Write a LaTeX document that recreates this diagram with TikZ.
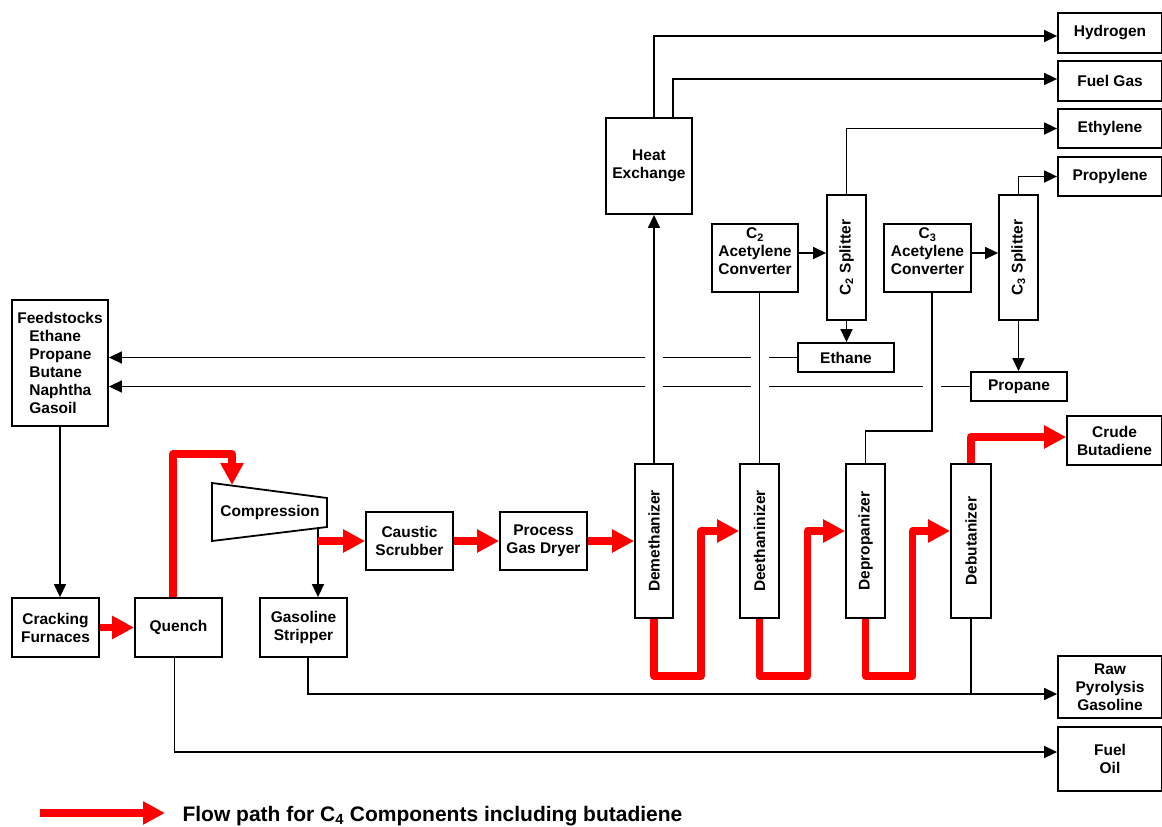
\documentclass[tikz,border=0pt]{standalone}
\usepackage{fontspec}
\setmainfont{Liberation Sans}
\usetikzlibrary{arrows.meta}

\begin{document}
\begin{tikzpicture}[x=1pt,y=-1pt,
    font=\fontsize{15.5}{18}\selectfont\bfseries,
    unitbox/.style={draw, line width=1.8pt, align=center, inner sep=2pt},
    flow/.style={line width=1.5pt, -{Triangle[length=13pt,width=12pt]}},
    pipe/.style={line width=1.5pt},
    bridge/.style={preaction={draw=white, line width=18pt, -}},
    c4/.style={draw=red, line width=7.5pt, line join=round, -{Triangle[length=22pt,width=22pt]}}]
      \useasboundingbox (0,0) rectangle (1162,827);
      % products
      \node[unitbox, minimum width=104, minimum height=40] (hyd) at (1110,33) {Hydrogen};
      \node[unitbox, minimum width=104, minimum height=40] (fgas) at (1110,81) {Fuel Gas};
      \node[unitbox, minimum width=104, minimum height=39] (ethyl) at (1110,128.5) {Ethylene};
      \node[unitbox, minimum width=104, minimum height=39] (propyl) at (1110,176.5) {Propylene};
      \node[unitbox, minimum width=95, minimum height=49] (crude) at (1114.5,440.5) {Crude\\Butadiene};
      \node[unitbox, minimum width=104, minimum height=62] (pygas) at (1110,687) {Raw\\Pyrolysis\\Gasoline};
      \node[unitbox, minimum width=104, minimum height=64] (fuoil) at (1110,759) {Fuel\\Oil};
      % cold end
      \node[unitbox, minimum width=86, minimum height=96] (heat) at (649,166) {Heat\\Exchange};
      \node[unitbox, minimum width=86, minimum height=68] (c2conv) at (755,258) {C\textsubscript{2}\\Acetylene\\Converter\\[-4pt]};
      \node[unitbox, minimum width=39, minimum height=125] (c2split) at (846.5,257.5) {};
      \node[rotate=90] (c2splittxt) at (c2split) {C\textsubscript{2} Splitter};
      \node[unitbox, minimum width=96, minimum height=29] (ethane) at (846,357.5) {Ethane};
      \node[unitbox, minimum width=87, minimum height=68] (c3conv) at (927.5,258) {C\textsubscript{3}\\Acetylene\\Converter\\[-4pt]};
      \node[unitbox, minimum width=39, minimum height=125] (c3split) at (1018.5,257.5) {};
      \node[rotate=90] (c3splittxt) at (c3split) {C\textsubscript{3} Splitter};
      \node[unitbox, minimum width=96, minimum height=29] (propane) at (1019,386.5) {Propane};
      % hot end
      \node[unitbox, minimum width=96, minimum height=126, align=left] (feed) at (60,363)
        {Feedstocks\\\hspace*{12pt}Ethane\\\hspace*{12pt}Propane\\\hspace*{12pt}Butane\\\hspace*{12pt}Naphtha\\\hspace*{12pt}Gasoil};
      \node[unitbox, minimum width=87, minimum height=59] (crack) at (55.5,627.5) {Cracking\\Furnaces};
      \node[unitbox, minimum width=87, minimum height=59] (quench) at (178.5,627.5) {Quench};
      \node[unitbox, minimum width=87, minimum height=59] (strip) at (303.5,627.5) {Gasoline\\Stripper};
      \draw[line width=1.8pt] (212,483) -- (327,498) -- (327,527) -- (212,541) -- cycle;
      \node (compr) at (270,512) {Compression};
      \coordinate (cmpin) at (232,485);
      \coordinate (cmpout) at (318,527);
      \coordinate (cmpred) at (318,541);
      \node[unitbox, minimum width=87, minimum height=58] (scrub) at (409.5,541) {Caustic\\Scrubber};
      \node[unitbox, minimum width=87, minimum height=58] (dryer) at (543.5,541) {Process\\Gas Dryer};
      % columns
      \node[unitbox, minimum width=38, minimum height=154] (demeth) at (654,541) {};
      \node[rotate=90] (demethtxt) at (demeth) {Demethanizer};
      \node[unitbox, minimum width=39, minimum height=154] (deeth) at (759.5,541) {};
      \node[rotate=90] (deethtxt) at (deeth) {Deethaninizer};
      \node[unitbox, minimum width=39, minimum height=154] (deprop) at (865.5,541) {};
      \node[rotate=90] (deproptxt) at (deprop) {Depropanizer};
      \node[unitbox, minimum width=40, minimum height=154] (debut) at (971,541) {};
      \node[rotate=90] (debuttxt) at (debut) {Debutanizer};
      % to the products
      \draw[flow] ([xshift=5pt]heat.north) |- ([yshift=-3pt]hyd.west);
      \draw[flow] ([xshift=24pt]heat.north) |- ([yshift=2pt]fgas.west);
      \draw[flow] (c2split.north) |- (ethyl.west);
      \draw[flow] (c3split.north) |- (propyl.west);
      \draw[flow] ([yshift=5pt]c2conv.east) -- ([yshift=5pt]c2conv.east -| c2split.west);
      \draw[flow] ([yshift=5pt]c3conv.east) -- ([yshift=5pt]c3conv.east -| c3split.west);
      \draw[flow] (c2split.south) -- (c2split.south |- ethane.north);
      \draw[flow] (c3split.south) -- (c3split.south |- propane.north);
      % recycle to the feed
      \draw[flow] (ethane.west) -- (ethane.west -| feed.east);
      \draw[flow] (propane.west) -- (propane.west -| feed.east);
      % overheads
      \draw[flow, bridge] (demeth.north) -- (demeth.north |- heat.south);
      \draw[pipe, bridge] (deeth.north) -- (deeth.north |- c2conv.south);
      \draw[pipe, bridge] ([xshift=4.5pt]c3conv.south) -- ++(0,138) -| (deprop.north);
      % bottoms
      \coordinate (pyin) at ([yshift=-7pt]pygas.west);
      \coordinate (foin) at ([yshift=7pt]fuoil.west);
      \draw[flow] ([xshift=4.5pt]strip.south) |- (pyin);
      \draw[pipe] (debut.south) -- (debut.south |- pyin);
      \draw[flow] ([xshift=-4pt]quench.south) |- (foin);
      \draw[flow] (feed.south) -- (feed.south |- crack.north);
      \draw[flow] (cmpout) -- (cmpout |- strip.north);
      % C4 path
      \draw[c4] (crack.east) -- (quench.west);
      \draw[c4] ([xshift=-5.5pt]quench.north) -- ++(0,-143) -| (cmpin);
      \draw[c4] (cmpred) -- (scrub.west);
      \draw[c4] (scrub.east) -- (dryer.west);
      \draw[c4] (dryer.east) -- (demeth.west);
      \draw[c4] (demeth.south) -- ++(0,57) -| ([xshift=-38pt,yshift=10pt]deeth.west) -- ([yshift=10pt]deeth.west);
      \draw[c4] (deeth.south) -- ++(0,57) -| ([xshift=-37.5pt,yshift=10pt]deprop.west) -- ([yshift=10pt]deprop.west);
      \draw[c4] (deprop.south) -- ++(0,57) -| ([xshift=-37.5pt,yshift=10pt]debut.west) -- ([yshift=10pt]debut.west);
      \draw[c4] (debut.north) |- ([yshift=3.5pt]crude.west);
      % legend
      \coordinate (legA) at (40,813);
      \coordinate (legB) at (165,813);
      \draw[c4] (legA) -- (legB);
      \node[anchor=base west, font=\fontsize{21}{24}\selectfont\bfseries] (legtxt) at (179,821)
        {Flow path for C\textsubscript{4} Components including butadiene};
    \end{tikzpicture}
\end{document}
